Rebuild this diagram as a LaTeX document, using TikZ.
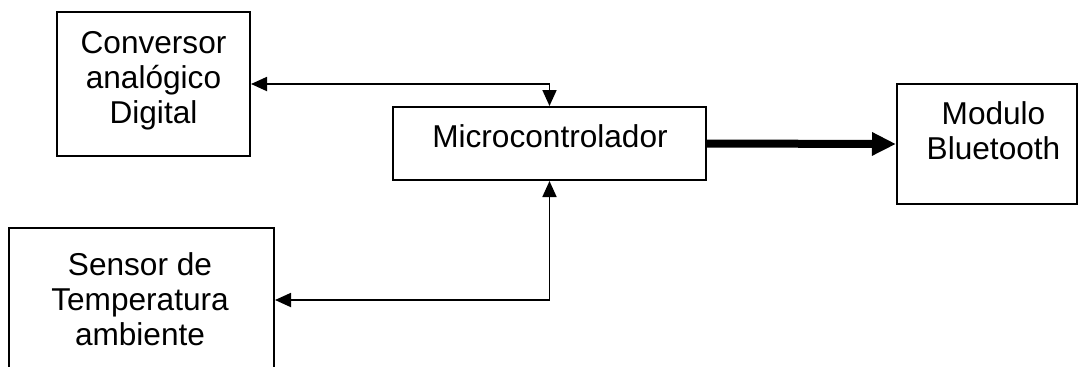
\documentclass[tikz,border=0pt]{standalone}
\usepackage{fontspec}
\setmainfont{Liberation Sans}
\usetikzlibrary{arrows.meta}
\begin{document}
\begin{tikzpicture}[x=0.5pt,y=-0.5pt,
  box/.style={draw, line width=1pt, inner sep=0pt},
  lbl/.style={inner sep=0pt, anchor=base, font=\fontsize{15.8pt}{17.5pt}\selectfont},
  thin/.style={line width=0.9pt, {Triangle[length=8pt,width=7pt]}-{Triangle[length=8pt,width=7pt]}},
  thick/.style={line width=4pt, -{Triangle[length=12pt,width=11pt]}}]
\useasboundingbox (0,0) rectangle (1078,366);
\clip (0,0) rectangle (1078,366);
\fill[white] (0,0) rectangle (1078,366);
% boxes
\node[box, minimum width=96.5pt, minimum height=72pt] (conv) at (153.5,84) {};
\node[box, minimum width=156.5pt, minimum height=36.5pt] (micro) at (549.5,143.5) {};
\node[box, minimum width=90pt, minimum height=60pt] (blue) at (987,144) {};
\node[box, minimum width=132.5pt, minimum height=72pt] (sens) at (141.5,300) {};
% labels
\node[lbl] (convt) at (153.5,53) {\begin{tabular}[t]{@{}c@{}}Conversor\\analógico\\Digital\end{tabular}};
\node[lbl] (microt) at (550,147.7) {Microcontrolador};
\node[lbl] (bluet) at (993.5,124) {\begin{tabular}[t]{@{}c@{}}Modulo\\Bluetooth\end{tabular}};
\node[lbl] (senst) at (140,275) {\begin{tabular}[t]{@{}c@{}}Sensor de\\Temperatura\\ambiente\end{tabular}};
% connectors
\draw[thin] (conv.east) -| (micro.north);
\draw[thin] (sens.east) -| (micro.south);
\draw[thick] (micro.east) -- (blue.west);
\end{tikzpicture}
\end{document}
